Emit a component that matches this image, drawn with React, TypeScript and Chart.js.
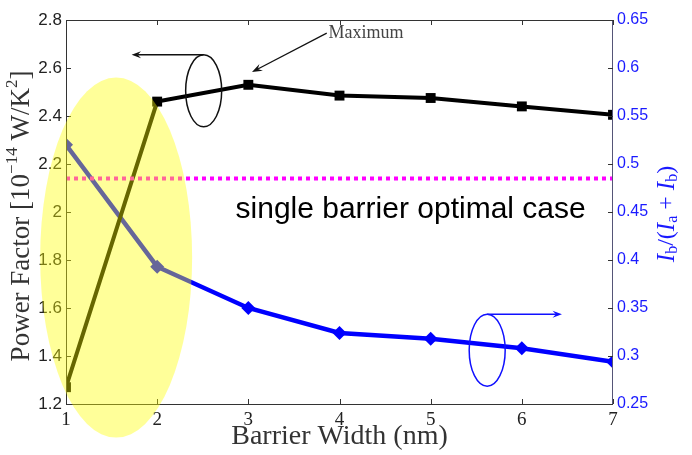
import { useEffect, useRef } from "react";
import { Chart, registerables } from "chart.js";
Chart.register(...registerables);

const barrierWidth = [1, 2, 3, 4, 5, 6, 7];
const powerFactor = [1.27, 2.46, 2.53, 2.485, 2.475, 2.44, 2.405];
const currentRatio = [0.52, 0.393, 0.35, 0.324, 0.318, 0.308, 0.294];
const singleBarrierOptimal = 2.14;
const leftRange = [1.2, 2.8];
const rightRange = [0.25, 0.65];
const xRange = [1, 7];

type Part = { t: string; f: string; dy?: number };

function drawRich(ctx: CanvasRenderingContext2D, parts: Part[], cx: number, cy: number, rot: number, color: string, align: "center" | "left" = "center") {
  ctx.save();
  ctx.translate(cx, cy);
  ctx.rotate(rot);
  ctx.fillStyle = color;
  ctx.textBaseline = "middle";
  ctx.textAlign = "left";
  let w = 0;
  for (const p of parts) { ctx.font = p.f; w += ctx.measureText(p.t).width; }
  let x = align === "center" ? -w / 2 : 0;
  for (const p of parts) {
    ctx.font = p.f;
    ctx.fillText(p.t, x, p.dy || 0);
    x += ctx.measureText(p.t).width;
  }
  ctx.restore();
}

function arrow(ctx: CanvasRenderingContext2D, x1: number, y1: number, x2: number, y2: number, color: string, lw: number, head: number) {
  ctx.save();
  ctx.strokeStyle = color; ctx.fillStyle = color; ctx.lineWidth = lw;
  const a = Math.atan2(y2 - y1, x2 - x1);
  ctx.beginPath(); ctx.moveTo(x1, y1); ctx.lineTo(x2 - Math.cos(a) * head * 0.6, y2 - Math.sin(a) * head * 0.6); ctx.stroke();
  ctx.beginPath();
  ctx.moveTo(x2, y2);
  ctx.lineTo(x2 - head * Math.cos(a - 0.35), y2 - head * Math.sin(a - 0.35));
  ctx.lineTo(x2 - head * 0.6 * Math.cos(a), y2 - head * 0.6 * Math.sin(a));
  ctx.lineTo(x2 - head * Math.cos(a + 0.35), y2 - head * Math.sin(a + 0.35));
  ctx.closePath(); ctx.fill();
  ctx.restore();
}

const decor = {
  id: "decor",
  afterDraw(chart: any) {
    const ctx: CanvasRenderingContext2D = chart.ctx;
    const { left, right, top, bottom } = chart.chartArea;
    const xs = chart.scales.x, ys = chart.scales.y, y1 = chart.scales.y1;
    ctx.save();
    // frame
    ctx.strokeStyle = "#333"; ctx.lineWidth = 1;
    ctx.strokeRect(left + 0.5, top + 0.5, right - left - 1, bottom - top);
    ctx.strokeStyle = "#555577";
    ctx.beginPath(); ctx.moveTo(right - 0.5, top); ctx.lineTo(right - 0.5, bottom); ctx.stroke();
    // inward ticks
    ctx.strokeStyle = "#333";
    ctx.beginPath();
    xs.ticks.forEach((t: any) => {
      const px = Math.round(xs.getPixelForValue(t.value)) + 0.5;
      ctx.moveTo(px, bottom); ctx.lineTo(px, bottom - 5);
      ctx.moveTo(px, top); ctx.lineTo(px, top + 5);
    });
    ys.ticks.forEach((t: any) => {
      const py = Math.round(ys.getPixelForValue(t.value)) + 0.5;
      ctx.moveTo(left, py); ctx.lineTo(left + 5, py);
    });
    y1.ticks.forEach((t: any) => {
      const py = Math.round(y1.getPixelForValue(t.value)) + 0.5;
      ctx.moveTo(right, py); ctx.lineTo(right - 5, py);
    });
    ctx.stroke();

    // axis titles
    const serif = "'Liberation Serif', 'DejaVu Serif', serif";
    drawRich(ctx, [
      { t: "Power Factor [10", f: `27px ${serif}` },
      { t: "−14", f: `17px ${serif}`, dy: -9 },
      { t: " W/K", f: `27px ${serif}` },
      { t: "2", f: `17px ${serif}`, dy: -9 },
      { t: "]", f: `27px ${serif}` },
    ], 22, 216, -Math.PI / 2, "#333");
    drawRich(ctx, [
      { t: "I", f: `italic 25px ${serif}` },
      { t: "b", f: `16px ${serif}`, dy: 6 },
      { t: "/(", f: `24px ${serif}` },
      { t: "I", f: `italic 25px ${serif}` },
      { t: "a", f: `16px ${serif}`, dy: 6 },
      { t: " + ", f: `24px ${serif}` },
      { t: "I", f: `italic 25px ${serif}` },
      { t: "b", f: `16px ${serif}`, dy: 6 },
      { t: ")", f: `24px ${serif}` },
    ], 667, 214, -Math.PI / 2, "#1a1aff");
    drawRich(ctx, [{ t: "Barrier Width (nm)", f: `28px ${serif}` }], (left + right) / 2, 437, 0, "#333");

    // single barrier text
    drawRich(ctx, [{ t: "single barrier optimal case", f: "30px 'Liberation Sans', Arial, sans-serif" }],
      xs.getPixelForValue(4.78), ys.getPixelForValue(2.01), 0, "#000");

    // Maximum annotation
    drawRich(ctx, [{ t: "Maximum", f: `18px ${serif}` }], xs.getPixelForValue(3.88), ys.getPixelForValue(2.745), 0, "#444", "left");
    arrow(ctx, xs.getPixelForValue(3.86), ys.getPixelForValue(2.745), xs.getPixelForValue(3.04), ys.getPixelForValue(2.583), "#111", 1.3, 11);

    // left-axis marker ellipse + arrow
    const lx = xs.getPixelForValue(2.51), ly = ys.getPixelForValue(2.505);
    ctx.strokeStyle = "#111"; ctx.lineWidth = 1.5;
    ctx.beginPath(); ctx.ellipse(lx, ly, 18, 36, 0, 0, Math.PI * 2); ctx.stroke();
    arrow(ctx, lx, ly - 36, xs.getPixelForValue(1.72), ly - 36, "#111", 1.5, 10);

    // right-axis marker ellipse + arrow
    const rx = xs.getPixelForValue(5.62), ry = y1.getPixelForValue(0.306);
    ctx.strokeStyle = "#1010ff"; ctx.lineWidth = 1.5;
    ctx.beginPath(); ctx.ellipse(rx, ry, 18, 36, 0, 0, Math.PI * 2); ctx.stroke();
    arrow(ctx, rx, ry - 36, xs.getPixelForValue(6.44), ry - 36, "#1010ff", 1.5, 10);

    // yellow highlight ellipse (drawn on top)
    ctx.fillStyle = "rgba(255,255,0,0.4)";
    ctx.beginPath();
    ctx.ellipse(xs.getPixelForValue(1.55), ys.getPixelForValue(1.81), 76, 180, 0, 0, Math.PI * 2);
    ctx.fill();
    ctx.restore();
  },
};

export default function App() {
  const ref = useRef<HTMLCanvasElement>(null);
  useEffect(() => {
    document.body.style.margin = "0";
    const chart = new Chart(ref.current!, {
      type: "line",
      data: {
        datasets: [
          {
            label: "Single barrier optimal",
            data: [
              { x: xRange[0], y: singleBarrierOptimal },
              { x: xRange[1], y: singleBarrierOptimal },
            ],
            yAxisID: "y",
            borderColor: "#ff00ff",
            borderWidth: 4,
            borderDash: [4, 4],
            pointRadius: 0,
          },
          {
            label: "Power Factor",
            data: barrierWidth.map((x, i) => ({ x, y: powerFactor[i] })),
            yAxisID: "y",
            borderColor: "#000",
            backgroundColor: "#000",
            borderWidth: 4,
            pointStyle: "rect",
            pointRadius: 7,
            pointBorderWidth: 0,
          },
          {
            label: "Ib/(Ia+Ib)",
            data: barrierWidth.map((x, i) => ({ x, y: currentRatio[i] })),
            yAxisID: "y1",
            borderColor: "#0000ff",
            backgroundColor: "#0000ff",
            borderWidth: 4.5,
            pointStyle: "rectRot",
            pointRadius: 7,
            pointBorderWidth: 0,
          },
        ],
      },
      options: {
        animation: false,
        responsive: false,
        layout: { padding: { top: 20, left: 0, right: 0, bottom: 0 } },
        plugins: { legend: { display: false }, tooltip: { enabled: false } },
        scales: {
          x: {
            type: "linear",
            min: xRange[0],
            max: xRange[1],
            ticks: { stepSize: 1, color: "#222", padding: 5, font: { family: "'Liberation Serif', serif", size: 19 } },
            grid: { display: false, drawTicks: false },
            border: { display: false },
            afterFit: (s: any) => { s.height = 51; },
          },
          y: {
            position: "left",
            min: leftRange[0],
            max: leftRange[1],
            ticks: {
              stepSize: 0.2, color: "#222", padding: 4,
              font: { family: "'Liberation Sans', Arial, sans-serif", size: 17 },
              callback: (v: any) => String(Number(Number(v).toFixed(1))),
            },
            grid: { display: false, drawTicks: false },
            border: { display: false },
            afterFit: (s: any) => { s.width = 66; },
          },
          y1: {
            position: "right",
            min: rightRange[0],
            max: rightRange[1],
            ticks: {
              stepSize: 0.05, color: "#1a1aff", padding: 4,
              font: { family: "'Liberation Sans', Arial, sans-serif", size: 16 },
              callback: (v: any) => String(Number(Number(v).toFixed(2))),
            },
            grid: { display: false, drawTicks: false },
            border: { display: false },
            afterFit: (s: any) => { s.width = 79; },
          },
        },
      },
      plugins: [decor],
    } as any);
    return () => chart.destroy();
  }, []);
  return <canvas ref={ref} width={692} height={455} style={{ display: "block" }} />;
}
